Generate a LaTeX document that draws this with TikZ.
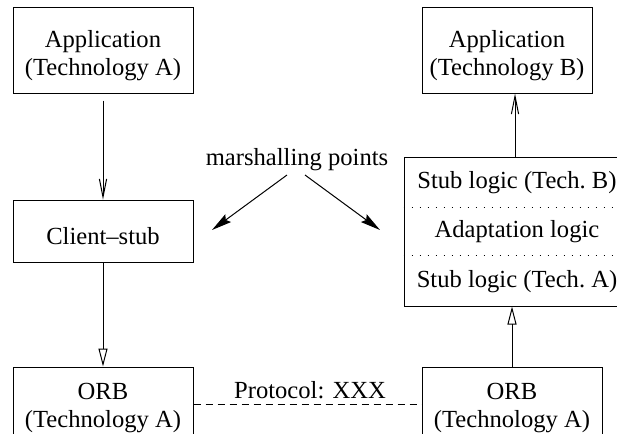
\documentclass[tikz,border=0pt]{standalone}
\usepackage{fontspec}
\setmainfont{Liberation Serif}
\usetikzlibrary{arrows.meta}
\begin{document}
\begin{tikzpicture}[x=0.5pt,y=-0.5pt,
  font=\fontsize{12.3}{13.8}\selectfont,
  box/.style={draw, line width=0.5pt, minimum width=90pt, inner sep=0pt},
  lbl/.style={inner sep=0pt, align=center, anchor=base},
  link/.style={line width=0.5pt},
  vtip/.style={-{Straight Barb[length=9pt,width=3.6pt,line width=0.5pt]}},
  ttip/.style={-{Triangle[open,length=9pt,width=4.5pt,line width=0.5pt]}},
  mtip/.style={-{Stealth[length=10pt,width=4.8pt,inset=1.5pt]}},
  proto/.style={line width=0.5pt, dash pattern=on 3.5pt off 2.5pt},
  sep/.style={line width=0.5pt, dash pattern=on 0.5pt off 3.5pt}
]
\useasboundingbox (0,0) rectangle (617,434);
\clip (0,0) rectangle (617,434);

% left column: caller side (two-line labels are placed by their last baseline)
\node[box, minimum height=43pt] (appA) at (103,50) {};
\node[box, minimum height=31pt] (cstub) at (103,231) {};
\node[box, minimum height=38pt] (orbA) at (103,405) {};
\node[lbl] (appAt) at (103,75) {Application\\(Technology A)};
\node[lbl] (cstubt) at (103,244) {Client\textendash stub};
\node[lbl] (orbAt) at (103,427) {ORB\\(Technology A)};

% right column: adapting side
\node[box, minimum width=85pt, minimum height=43pt] (appB) at (507,50) {};
\node[box, minimum width=113pt, minimum height=74.5pt] (adapt) at (517,231.5) {};
\node[box, minimum height=38pt] (orbB) at (512,405) {};
\node[lbl] (appBt) at (507,75) {Application\\(Technology B)};
\node[lbl] (orbBt) at (512,427) {ORB\\(Technology A)};

% layers inside the adapter box
\node[lbl] (stubB) at (517,188) {Stub logic (Tech.~B)};
\node[lbl] (adlog) at (517,237) {Adaptation logic};
\node[lbl] (stubA) at (517,287) {Stub logic (Tech.~A)};
\coordinate (s1w) at (adapt.west |- 0,207);
\coordinate (s1e) at (adapt.east |- 0,207);
\coordinate (s2w) at (adapt.west |- 0,255);
\coordinate (s2e) at (adapt.east |- 0,255);
\draw[sep] (s1w) -- (s1e);
\draw[sep] (s2w) -- (s2e);

% call flow
\draw[link, vtip, shorten <=3.5pt] (appA) -- (cstub);
\draw[link, ttip] (cstub) -- (orbA);
\draw[link, ttip] (orbB.north) -- (orbB.north |- adapt.south);
\draw[link, vtip] (adapt.north -| 515,0) -- (appB.south -| 515,0);

% wire protocol between the ORBs
\draw[proto] (orbA.east |- 0,404) -- (orbB.west |- 0,404);
\node[lbl] (plbl) at (310,398) {Protocol: XXX};

% marshalling points
\node[lbl] (mp) at (297,165) {marshalling points};
\coordinate (mpl) at (287,175);
\coordinate (mpr) at (305,175);
\coordinate (mtl) at (212,230);
\coordinate (mtr) at (380,230);
\draw[link, mtip] (mpl) -- (mtl);
\draw[link, mtip] (mpr) -- (mtr);
\end{tikzpicture}
\end{document}
